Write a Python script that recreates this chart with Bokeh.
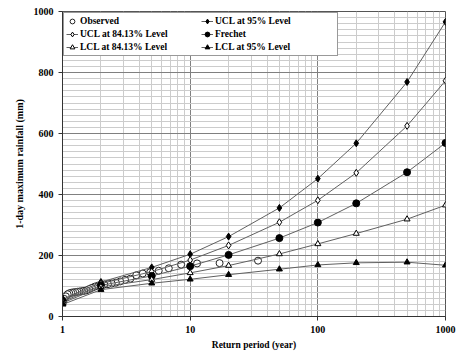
from bokeh.plotting import figure
from bokeh.models import (Range1d, FixedTicker, NumeralTickFormatter, Legend, LegendItem)
from bokeh.embed import file_html
from bokeh.resources import INLINE

# Return periods of fitted quantiles (years)
T_fit = [1.01, 2, 5, 10, 20, 50, 100, 200, 500, 1000]
ucl95 = [57, 113, 161, 204, 262, 356, 452, 568, 769, 966]
ucl84 = [53, 108, 147, 185, 233, 309, 381, 471, 625, 773]
frechet = [49, 102, 133, 165, 202, 257, 308, 371, 473, 569]
lcl84 = [45, 97, 121, 143, 167, 205, 238, 272, 319, 365]
lcl95 = [40, 88, 109, 122, 137, 155, 169, 176, 178, 168]

# Observed annual maxima (plotting positions)
T_obs = [34.0, 17.0, 11.33, 8.5, 6.8, 5.67, 4.86, 4.25, 3.78, 3.4, 3.09, 2.83,
         2.62, 2.43, 2.27, 2.125, 2.0, 1.89, 1.79, 1.7, 1.62, 1.545, 1.478,
         1.417, 1.36, 1.31, 1.26, 1.21, 1.17, 1.13, 1.097, 1.0625, 1.03]
obs = [183, 175, 174, 170, 158, 150, 145, 141, 135, 124, 120, 115,
       111, 108, 106, 105, 103, 101, 98, 94, 90, 86, 84,
       83, 82, 81, 80, 79, 78, 76, 73, 66, 58]

x_ticks = [1, 10, 100, 1000]
x_minor = [2, 3, 4, 5, 6, 7, 8, 9, 20, 30, 40, 50, 60, 70, 80, 90,
           200, 300, 400, 500, 600, 700, 800, 900]
y_ticks = [0, 200, 400, 600, 800, 1000]
y_minor = list(range(0, 1001, 20))

FONT = "Liberation Serif"

p = figure(width=470, height=353, x_axis_type="log",
           x_range=Range1d(1, 1000), y_range=Range1d(0, 1000),
           output_backend="svg", toolbar_location=None,
           min_border_left=62, min_border_right=25,
           min_border_top=11, min_border_bottom=37)

p.outline_line_color = "#555555"
p.outline_line_width = 1

xt = FixedTicker(ticks=x_ticks, minor_ticks=x_minor)
yt = FixedTicker(ticks=y_ticks, minor_ticks=y_minor)
p.xaxis.ticker = xt
p.yaxis.ticker = yt
p.xgrid.ticker = xt
p.ygrid.ticker = yt
p.xaxis.formatter = NumeralTickFormatter(format="0")

for g in (p.xgrid, p.ygrid):
    g.grid_line_color = "#808080"
    g.grid_line_width = 1
    g.grid_line_alpha = 1
    g.minor_grid_line_color = "#cccccc"
    g.minor_grid_line_width = 1

for ax in (p.xaxis, p.yaxis):
    ax.axis_line_color = "#333333"
    ax.major_tick_line_color = "#333333"
    ax.major_tick_out = 4
    ax.major_tick_in = 0
    ax.minor_tick_out = 0
    ax.minor_tick_in = 0
    ax.major_label_text_font = FONT
    ax.major_label_text_font_style = "bold"
    ax.major_label_text_font_size = "10px"
    ax.major_label_text_color = "black"
    ax.axis_label_text_font = FONT
    ax.axis_label_text_font_style = "bold"
    ax.axis_label_text_color = "black"

p.xaxis.axis_label = "Return period (year)"
p.yaxis.axis_label = "1-day maximum rainfall (mm)"
p.xaxis.axis_label_text_font_size = "9.5px"
p.yaxis.axis_label_text_font_size = "10px"
p.xaxis.major_label_standoff = 5
p.yaxis.major_label_standoff = 5
p.xaxis.axis_label_standoff = 4
p.yaxis.axis_label_standoff = 6

LC = "#606060"

r_obs = p.scatter(T_obs, obs, marker="circle", size=7, fill_color="white",
                  line_color="#222222", line_width=1)

def series(y, marker, size, filled):
    ln = p.line(T_fit, y, line_color=LC, line_width=1)
    sc = p.scatter(T_fit, y, marker=marker, size=size,
                   fill_color="black" if filled else "white",
                   line_color="black", line_width=1)
    return [ln, sc]

r_u95 = series(ucl95, "diamond", 7, True)
r_u84 = series(ucl84, "diamond", 7, False)
r_fr = series(frechet, "circle", 7, True)
r_l84 = series(lcl84, "triangle", 6, False)
r_l95 = series(lcl95, "triangle", 6, True)

items = [
    LegendItem(label="Observed", renderers=[r_obs]),
    LegendItem(label="UCL at 84.13% Level", renderers=r_u84),
    LegendItem(label="LCL at 84.13% Level", renderers=r_l84),
    LegendItem(label="UCL at 95% Level", renderers=r_u95),
    LegendItem(label="Frechet", renderers=r_fr),
    LegendItem(label="LCL at 95% Level", renderers=r_l95),
]
legend = Legend(items=items, location="top_left", ncols=2,
                label_text_font=FONT, label_text_font_style="bold",
                label_text_font_size="9.5px", label_text_color="black",
                glyph_width=12, glyph_height=12, label_standoff=2,
                label_width=120, label_height=12,
                spacing=1, padding=2, margin=1,
                border_line_color="#333333", border_line_width=1,
                background_fill_color="white", background_fill_alpha=1)
p.add_layout(legend)

open("out.html", "w").write(file_html(p, INLINE))
